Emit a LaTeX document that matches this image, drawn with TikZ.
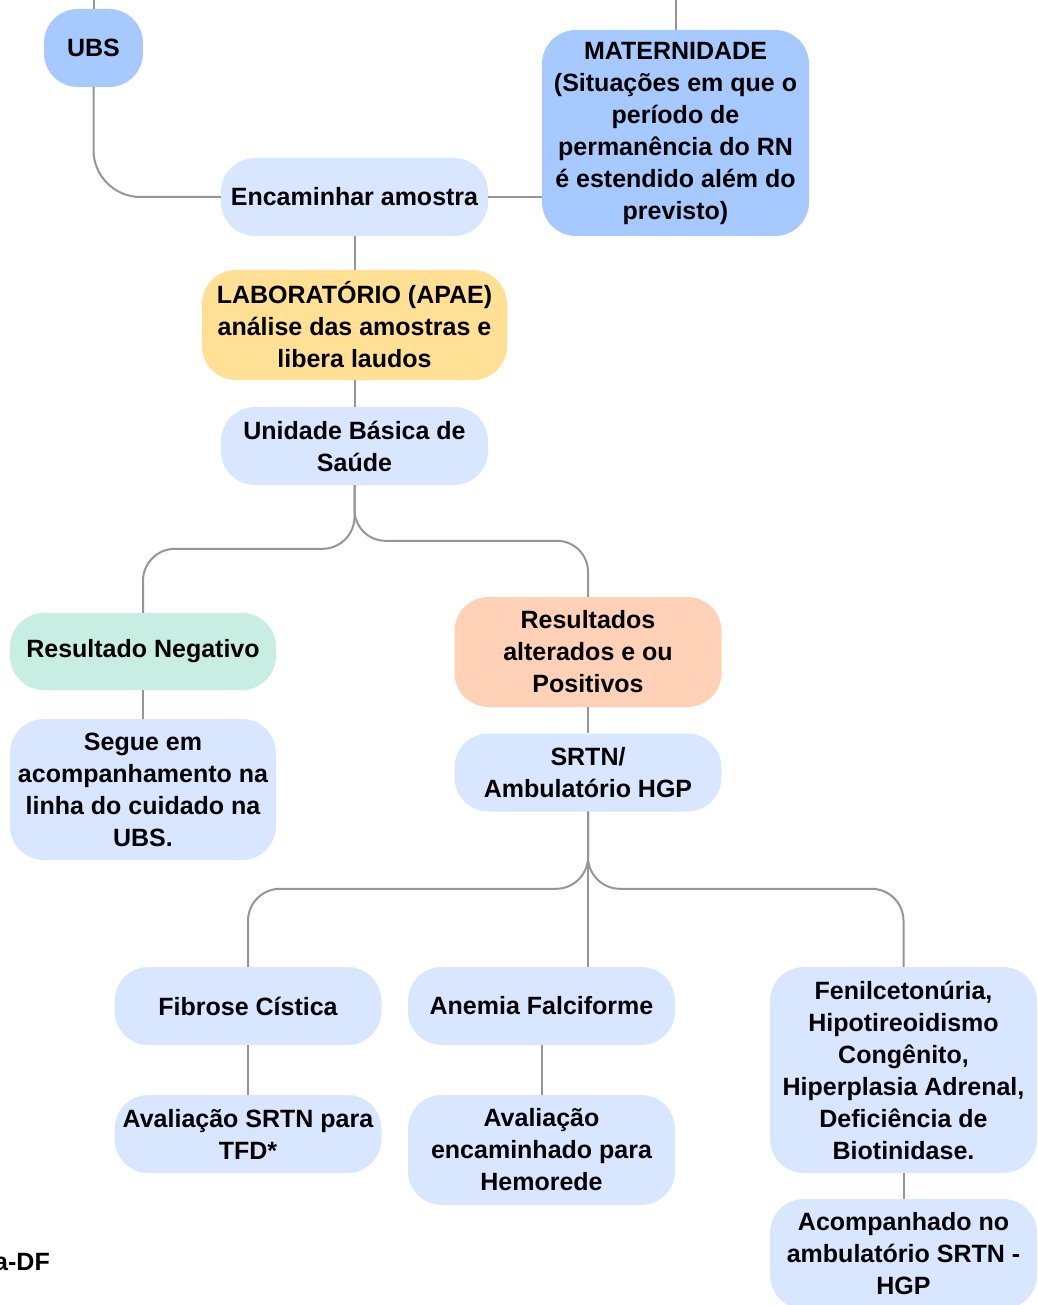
\documentclass[tikz,border=0pt]{standalone}
\usepackage{fontspec}
\setmainfont{Liberation Sans}
\usetikzlibrary{calc}
\definecolor{medblue}{RGB}{166,201,255}
\definecolor{ltblue}{RGB}{217,230,255}
\definecolor{labyellow}{RGB}{255,224,148}
\definecolor{peach}{RGB}{255,209,182}
\definecolor{mint}{RGB}{200,237,226}
\definecolor{linegray}{RGB}{150,150,150}
\begin{document}
\begin{tikzpicture}[x=1pt,y=-1pt,
  box/.style={rounded corners=34pt, inner sep=0pt, align=center, minimum width=267pt,
    font=\bfseries\fontsize{25}{32}\selectfont, text=black},
  conn/.style={draw=linegray, line width=2pt}]
\useasboundingbox (0,0) rectangle (1037,1305);
\node[box, fill=medblue, minimum width=99pt, minimum height=78pt] (ubs) at (93.5,48) {UBS};
\node[box, fill=medblue, minimum height=206pt] (mat) at (675.5,133) {MATERNIDADE\\(Situações em que o\\período de\\permanência do RN\\é estendido além do\\previsto)};
\node[box, fill=ltblue, minimum height=78pt] (enc) at (354.5,197) {Encaminhar amostra};
\node[box, fill=labyellow, minimum width=305pt, minimum height=110pt] (lab) at (354.5,325) {LABORATÓRIO (APAE)\\análise das amostras e\\libera laudos};
\node[box, fill=ltblue, minimum height=78pt] (unid) at (354.5,446) {Unidade Básica de\\Saúde};
\node[box, fill=mint, minimum width=266pt, minimum height=77pt] (neg) at (143,651.5) {Resultado Negativo};
\node[box, fill=ltblue, minimum width=266pt, minimum height=141pt] (segue) at (143,789.5) {Segue em\\acompanhamento na\\linha do cuidado na\\UBS.};
\node[box, fill=peach, minimum height=110pt] (res) at (588,652) {Resultados\\alterados e ou\\Positivos};
\node[box, fill=ltblue, minimum height=78pt] (srtn) at (588,772.5) {SRTN/\\Ambulatório HGP};
\node[box, fill=ltblue, minimum height=78pt] (fib) at (248,1006) {Fibrose Cística};
\node[box, fill=ltblue, minimum height=78pt] (avs) at (248,1134) {Avaliação SRTN para\\TFD*};
\node[box, fill=ltblue, minimum height=78pt] (anem) at (541.5,1006) {Anemia Falciforme};
\node[box, fill=ltblue, minimum height=110pt] (avh) at (541.5,1150) {Avaliação\\encaminhado para\\Hemorede};
\node[box, fill=ltblue, minimum height=206pt] (fen) at (903.5,1070) {Fenilcetonúria,\\Hipotireoidismo\\Congênito,\\Hiperplasia Adrenal,\\Deficiência de\\Biotinidase.};
\node[box, fill=ltblue, minimum height=110pt] (acomp) at (903.5,1254) {Acompanhado no\\ambulatório SRTN -\\HGP};
\node[anchor=east, inner sep=0pt, font=\bfseries\fontsize{25}{32}\selectfont] (df) at (50,1262) {a-DF};
\coordinate (t1) at (93.5,0);
\coordinate (t2) at (675.5,0);
\draw[conn] (t1) -- (ubs.north);
\draw[conn] (t2) -- (mat.north);
\draw[conn, rounded corners=47pt] (ubs.south) |- (enc.west);
\draw[conn] (enc.east) -- (enc.east -| mat.west);
\draw[conn] (enc.south) -- (lab.north);
\draw[conn] (lab.south) -- (unid.north);
\draw[conn, rounded corners=32pt] (unid.south) |- ($(neg.north)+(0,-64)$) -- (neg.north);
\draw[conn, rounded corners=31pt] (unid.south) |- ($(res.north)+(0,-56)$) -- (res.north);
\draw[conn] (neg.south) -- (segue.north);
\draw[conn] (res.south) -- (srtn.north);
\draw[conn, rounded corners=32pt] (srtn.south) |- ($(fib.north)+(0,-78)$) -- (fib.north);
\draw[conn, rounded corners=32pt] (srtn.south) |- ($(fen.north)+(0,-78)$) -- (fen.north);
\draw[conn] (srtn.south) -- (srtn.south |- anem.north);
\draw[conn] (fib.south) -- (avs.north);
\draw[conn] (anem.south) -- (avh.north);
\draw[conn] (fen.south) -- (acomp.north);
\end{tikzpicture}
\end{document}
